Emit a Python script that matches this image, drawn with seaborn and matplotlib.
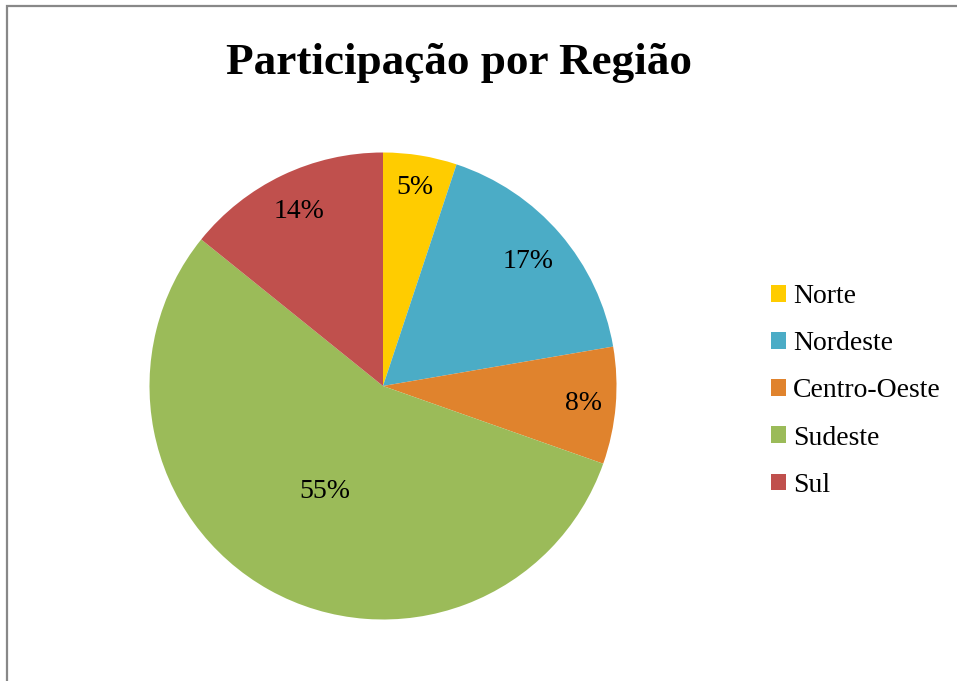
import matplotlib
matplotlib.use("Agg")
import matplotlib.pyplot as plt
import seaborn as sns
import numpy as np
from matplotlib.patches import Rectangle

# data
regioes = ["Norte", "Nordeste", "Centro-Oeste", "Sudeste", "Sul"]
participacao = [5.1, 17.2, 8.1, 55.4, 14.2]
cores = ["#FFCC00", "#4BACC6", "#E0832D", "#9BBB59", "#C0504D"]
dist_rotulo = [0.86, 0.82, 0.86, 0.515, 0.83]  # where Excel put each % label

sns.set_theme(style="white")
plt.rcParams["font.family"] = ["Liberation Serif", "DejaVu Serif"]
plt.rcParams["text.color"] = "black"

fig = plt.figure(figsize=(9.57, 6.81), dpi=100)

# pie axes: centre (383, 386) px, radius ~233 px
ax = fig.add_axes([149.5 / 957, 61.5 / 681, 467 / 957, 467 / 681])
wedges, _, autotexts = ax.pie(participacao, colors=sns.color_palette(cores),
                              startangle=90, counterclock=False,
                              autopct="%.0f%%", pctdistance=0.8,
                              wedgeprops=dict(linewidth=0),
                              textprops=dict(fontsize=20, color="black"))
for w, t, d in zip(wedges, autotexts, dist_rotulo):
    ang = np.deg2rad((w.theta1 + w.theta2) / 2)
    t.set_position((d * np.cos(ang), d * np.sin(ang)))
    t.set_ha("center")
    t.set_va("center")
ax.set_xlim(-1, 1)
ax.set_ylim(-1, 1)
ax.set_aspect("auto")
ax.axis("off")

fig.text(458.5 / 957, 1 - 74 / 681, "Participação por Região",
         ha="center", va="baseline", fontsize=32.5, fontweight="bold",
         color="black")

fig.legend(wedges, regioes, loc="upper left",
           bbox_to_anchor=(771 / 957, 1 - 284 / 681),
           frameon=False, fontsize=20, borderpad=0, borderaxespad=0,
           handlelength=0.55, handleheight=0.55, handletextpad=0.25,
           labelspacing=0.8, labelcolor="black")

# outer chart border (cropped on the right and bottom)
fig.patches.append(Rectangle((7 / 957, -0.05), 1.0, 1 - 6 / 681 + 0.05,
                             transform=fig.transFigure, fill=False,
                             edgecolor="#888888", linewidth=1.6))

fig.savefig("out.png", dpi=100)
